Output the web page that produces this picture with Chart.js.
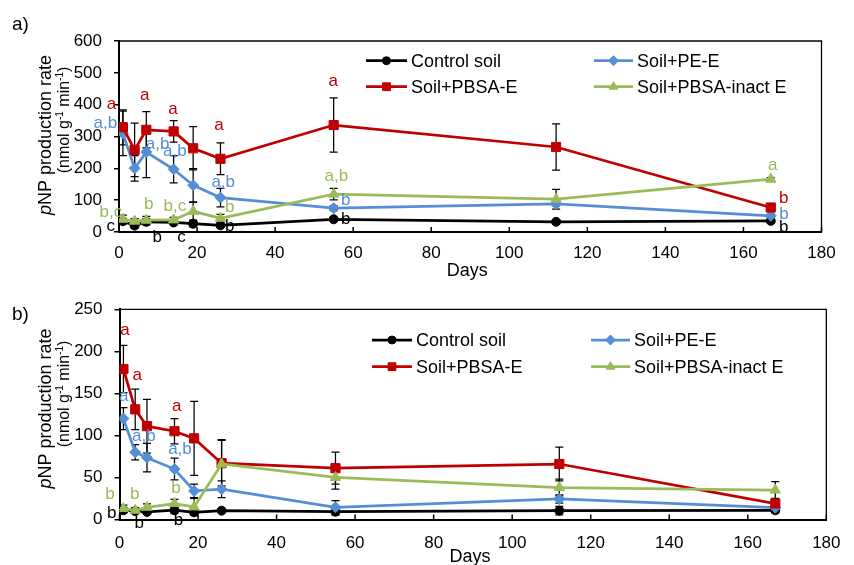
<!DOCTYPE html>
<html>
<head>
<meta charset="utf-8">
<script src="https://cdn.jsdelivr.net/npm/chart.js@4.4.0/dist/chart.umd.min.js"></script>
<style>
  body { margin: 0; background: #fff; }
  #wrap { position: relative; width: 854px; height: 565px; overflow: hidden; }
  .panel { position: absolute; left: 0; width: 854px; }
</style>
</head>
<body>
<div id="wrap">
  <div class="panel" style="top:0;height:282px"><canvas id="chartA"></canvas></div>
  <div class="panel" style="top:282px;height:283px"><canvas id="chartB"></canvas></div>
</div>
<script>
// ---- data ----
const days = [1, 4, 7, 14, 19, 26, 55, 112, 167];
const seriesNames = ['Control soil', 'Soil+PE-E', 'Soil+PBSA-E', 'Soil+PBSA-inact E'];
const xTicks = [0, 20, 40, 60, 80, 100, 120, 140, 160, 180];

// a)
const yTicksA = [0, 100, 200, 300, 400, 500, 600];
const controlA = [34, 20, 32, 30, 26, 21, 40, 32, 35];
const peA      = [310, 200, 251, 197, 147, 108, 75, 88, 51];
const pbsaA    = [329, 258, 321, 316, 263, 230, 336, 267, 77];
const inactA   = [40, 34, 37, 38, 65, 43, 119, 103, 166];
const controlAErr = [9, 8, 10, 8, 10, 6, 6, 6, 4];
const peAErr      = [70, 40, 80, 43, 52, 29, 8, 6, 5];
const pbsaAErr    = [55, 84, 57, 34, 68, 50, 85, 73, 8];
const inactAErr   = [13, 8, 12, 8, 28, 12, 18, 31, 5];
// significance letters: [day, value, text]
const controlALetters = [[-2.1, 17, 'c'], [9.8, -17, 'b'], [16, -17, 'c'], [28.4, 17, 'b'], [58.1, 40, 'b'], [170.3, 15, 'b']];
const peALetters      = [[-3.5, 340, 'a,b'], [9.9, 277, 'a,b'], [14.3, 254, 'a,b'], [26.7, 157, 'a,b'], [58.1, 98, 'b'], [170.4, 56, 'b']];
const pbsaALetters    = [[-1.9, 400, 'a'], [6.6, 428, 'a'], [13.8, 386, 'a'], [25.6, 334, 'a'], [54.9, 473, 'a'], [170.3, 107, 'b']];
const inactALetters   = [[-2.1, 63, 'b,c'], [7.6, 87, 'b'], [14.3, 82, 'b,c'], [28.4, 79, 'b'], [55.7, 175, 'a,b'], [167.5, 211, 'a']];

// b)
const yTicksB = [0, 50, 100, 150, 200, 250];
const controlB = [11, 10, 9, 11, 8.5, 10.5, 9.3, 10.5, 11];
const peB      = [120, 80, 73.5, 60, 34, 36, 14.5, 24.4, 14];
const pbsaB    = [179, 131, 111, 105, 96.5, 67, 61, 66, 19];
const inactB   = [13, 11, 14.5, 19, 15, 66, 50, 38, 35];
const controlBErr = [3, 3, 3, 4, 3, 2, 4, 5, 3];
const peBErr      = [13, 9, 17, 13, 8, 10, 8, 5, 3];
const pbsaBErr    = [28, 24, 32, 15, 44, 27, 19, 20, 5];
const inactBErr   = [4, 3, 4, 5, 10, 29, 14, 10, 10];
const controlBLetters = [[-2.0, 7, 'b'], [5.0, -5, 'b'], [15.0, -1.5, 'b']];
const peBLetters      = [[1.1, 146, 'a'], [6.2, 99, 'a,b'], [15.4, 83.5, 'a,b']];
const pbsaBLetters    = [[1.4, 225, 'a'], [4.5, 172, 'a'], [14.6, 135, 'a']];
const inactBLetters   = [[-2.4, 30, 'b'], [3.9, 30, 'b'], [14.4, 37, 'b']];

// ---- styles ----
const FONT = '"Liberation Sans", Arial, sans-serif';
const styles = [
  { color: '#000000', pointStyle: 'circle',   radius: 4.5, legendRadius: 4 },
  { color: '#558ED5', pointStyle: 'rectRot',  radius: 5.5, legendRadius: 5 },
  { color: '#C00000', pointStyle: 'rect',     radius: 6.5, legendRadius: 5.5 },
  { color: '#9BBB59', pointStyle: 'triangle', radius: 6,   legendRadius: 5 }
];

Chart.defaults.font.family = FONT;
Chart.defaults.color = '#000';

function drawRich(ctx, parts, x, y) {
  let w = 0;
  parts.forEach(p => { ctx.font = p.font; p.w = ctx.measureText(p.t).width; w += p.w; });
  ctx.save();
  ctx.translate(x, y);
  ctx.rotate(-Math.PI / 2);
  ctx.textAlign = 'left';
  ctx.textBaseline = 'alphabetic';
  ctx.fillStyle = '#000';
  let cx = -w / 2;
  parts.forEach(p => { ctx.font = p.font; ctx.fillText(p.t, cx, p.dy || 0); cx += p.w; });
  ctx.restore();
}

function makeChart(id, p) {
  const datasets = p.values.map((vals, i) => ({
    label: seriesNames[i],
    data: days.map((d, j) => ({ x: d, y: vals[j] })),
    borderColor: styles[i].color,
    backgroundColor: styles[i].color,
    pointBorderColor: styles[i].color,
    pointBackgroundColor: styles[i].color,
    borderWidth: 2.75,
    pointStyle: styles[i].pointStyle,
    pointRadius: styles[i].radius,
    pointBorderWidth: 1,
    tension: 0,
    order: 4 - i
  }));

  const extras = {
    id: 'extras',
    beforeDatasetsDraw(chart) {
      const ctx = chart.ctx, ys = chart.scales.y;
      ctx.save();
      ctx.strokeStyle = '#000';
      ctx.lineWidth = 1.25;
      p.errors.forEach((errs, i) => {
        const meta = chart.getDatasetMeta(i);
        meta.data.forEach((pt, j) => {
          const v = p.values[i][j], e = errs[j];
          const y1 = ys.getPixelForValue(v + e), y2 = ys.getPixelForValue(v - e);
          ctx.beginPath();
          ctx.moveTo(pt.x, y1); ctx.lineTo(pt.x, y2);
          ctx.moveTo(pt.x - 4, y1); ctx.lineTo(pt.x + 4, y1);
          ctx.moveTo(pt.x - 4, y2); ctx.lineTo(pt.x + 4, y2);
          ctx.stroke();
        });
      });
      ctx.restore();
    },
    afterDraw(chart) {
      const ctx = chart.ctx, a = chart.chartArea;
      const xs = chart.scales.x, ys = chart.scales.y;
      ctx.save();
      // plot frame
      ctx.strokeStyle = '#000';
      ctx.lineWidth = 1.3;
      ctx.beginPath();
      ctx.moveTo(a.left, a.top); ctx.lineTo(a.right, a.top); ctx.lineTo(a.right, a.bottom);
      ctx.stroke();
      // inward x ticks
      ctx.lineWidth = 1.5;
      ctx.beginPath();
      xs.ticks.forEach(t => {
        const x = xs.getPixelForValue(t.value);
        ctx.moveTo(x, a.bottom); ctx.lineTo(x, a.bottom - 5);
      });
      ctx.stroke();
      // letters
      ctx.font = '17px ' + FONT;
      ctx.textAlign = 'center';
      ctx.textBaseline = 'middle';
      p.letters.forEach((list, i) => {
        ctx.fillStyle = styles[i].color;
        list.forEach(([d, v, t]) => ctx.fillText(t, xs.getPixelForValue(d), ys.getPixelForValue(v)));
      });
      // legend
      ctx.font = '18px ' + FONT;
      ctx.textAlign = 'left';
      p.legend.forEach(([i, x0, x1, y]) => {
        ctx.strokeStyle = styles[i].color;
        ctx.fillStyle = styles[i].color;
        ctx.lineWidth = 2.75;
        ctx.beginPath(); ctx.moveTo(x0, y); ctx.lineTo(x1, y); ctx.stroke();
        ctx.lineWidth = 1;
        Chart.helpers.drawPoint(ctx, { pointStyle: styles[i].pointStyle, radius: styles[i].legendRadius, rotation: 0, borderWidth: 1 }, (x0 + x1) / 2, y);
        ctx.fillStyle = '#000';
        ctx.fillText(seriesNames[i], x1 + 4, y + 1);
      });
      // titles
      ctx.fillStyle = '#000';
      ctx.font = '18px ' + FONT;
      ctx.textAlign = 'center';
      ctx.fillText('Days', (a.left + a.right) / 2 - 3, a.bottom + p.daysDy);
      ctx.textAlign = 'left';
      ctx.font = '19px ' + FONT;
      ctx.fillText(p.tag, 12, p.tagY);
      drawRich(ctx, [
        { t: 'p', font: 'italic 18px ' + FONT },
        { t: 'NP production rate', font: '18px ' + FONT }
      ], 51, p.t1y);
      drawRich(ctx, [
        { t: '(nmol g', font: '16px ' + FONT },
        { t: '-1', font: '10px ' + FONT, dy: -6 },
        { t: ' min', font: '16px ' + FONT },
        { t: '-1', font: '10px ' + FONT, dy: -6 },
        { t: ')', font: '16px ' + FONT }
      ], 69, p.t2y);
      ctx.restore();
    }
  };

  return new Chart(document.getElementById(id), {
    type: 'line',
    data: { datasets },
    options: {
      responsive: true,
      maintainAspectRatio: false,
      animation: false,
      layout: { padding: { top: p.area.top, right: 854 - p.area.right, bottom: 0, left: 0 } },
      plugins: { legend: { display: false }, tooltip: { enabled: false } },
      scales: {
        x: {
          type: 'linear', min: 0, max: 180,
          afterBuildTicks: s => { s.ticks = xTicks.map(v => ({ value: v })); },
          afterFit: s => { s.height = p.height - p.area.bottom; },
          grid: { display: true, drawOnChartArea: false, drawTicks: false },
          border: { display: true, color: '#000', width: 2 },
          ticks: { font: { size: 17 }, color: '#000', padding: p.xPad, maxRotation: 0 }
        },
        y: {
          min: 0, max: p.yMax,
          afterBuildTicks: s => { s.ticks = p.yTicks.map(v => ({ value: v })); },
          afterFit: s => { s.width = p.area.left; },
          grid: { drawOnChartArea: false, drawTicks: true, tickLength: 5, color: '#000', lineWidth: 1.5 },
          border: { display: true, color: '#000', width: 2 },
          ticks: { font: { size: 17 }, color: '#000', padding: 12 }
        }
      }
    },
    plugins: [extras]
  });
}

makeChart('chartA', {
  height: 282,
  area: { left: 119, top: 41, right: 821.5, bottom: 232 },
  yMax: 600, yTicks: yTicksA, xPad: 11,
  values: [controlA, peA, pbsaA, inactA],
  errors: [controlAErr, peAErr, pbsaAErr, inactAErr],
  letters: [controlALetters, peALetters, pbsaALetters, inactALetters],
  legend: [[0, 366, 407, 60.7], [1, 594, 633, 60.7], [2, 366, 407, 86.7], [3, 594, 633, 86.7]],
  daysDy: 39, tag: 'a)', tagY: 25, t1y: 135, t2y: 120
});

makeChart('chartB', {
  height: 283,
  area: { left: 119.5, top: 27.3, right: 826.7, bottom: 237.5 },
  yMax: 250, yTicks: yTicksB, xPad: 13.5,
  values: [controlB, peB, pbsaB, inactB],
  errors: [controlBErr, peBErr, pbsaBErr, inactBErr],
  letters: [controlBLetters, peBLetters, pbsaBLetters, inactBLetters],
  legend: [[0, 372, 412, 58], [1, 591, 630, 58], [2, 372, 412, 84.7], [3, 591, 630, 84.7]],
  daysDy: 37.5, tag: 'b)', tagY: 33, t1y: 126.5, t2y: 112
});
</script>
</body>
</html>
